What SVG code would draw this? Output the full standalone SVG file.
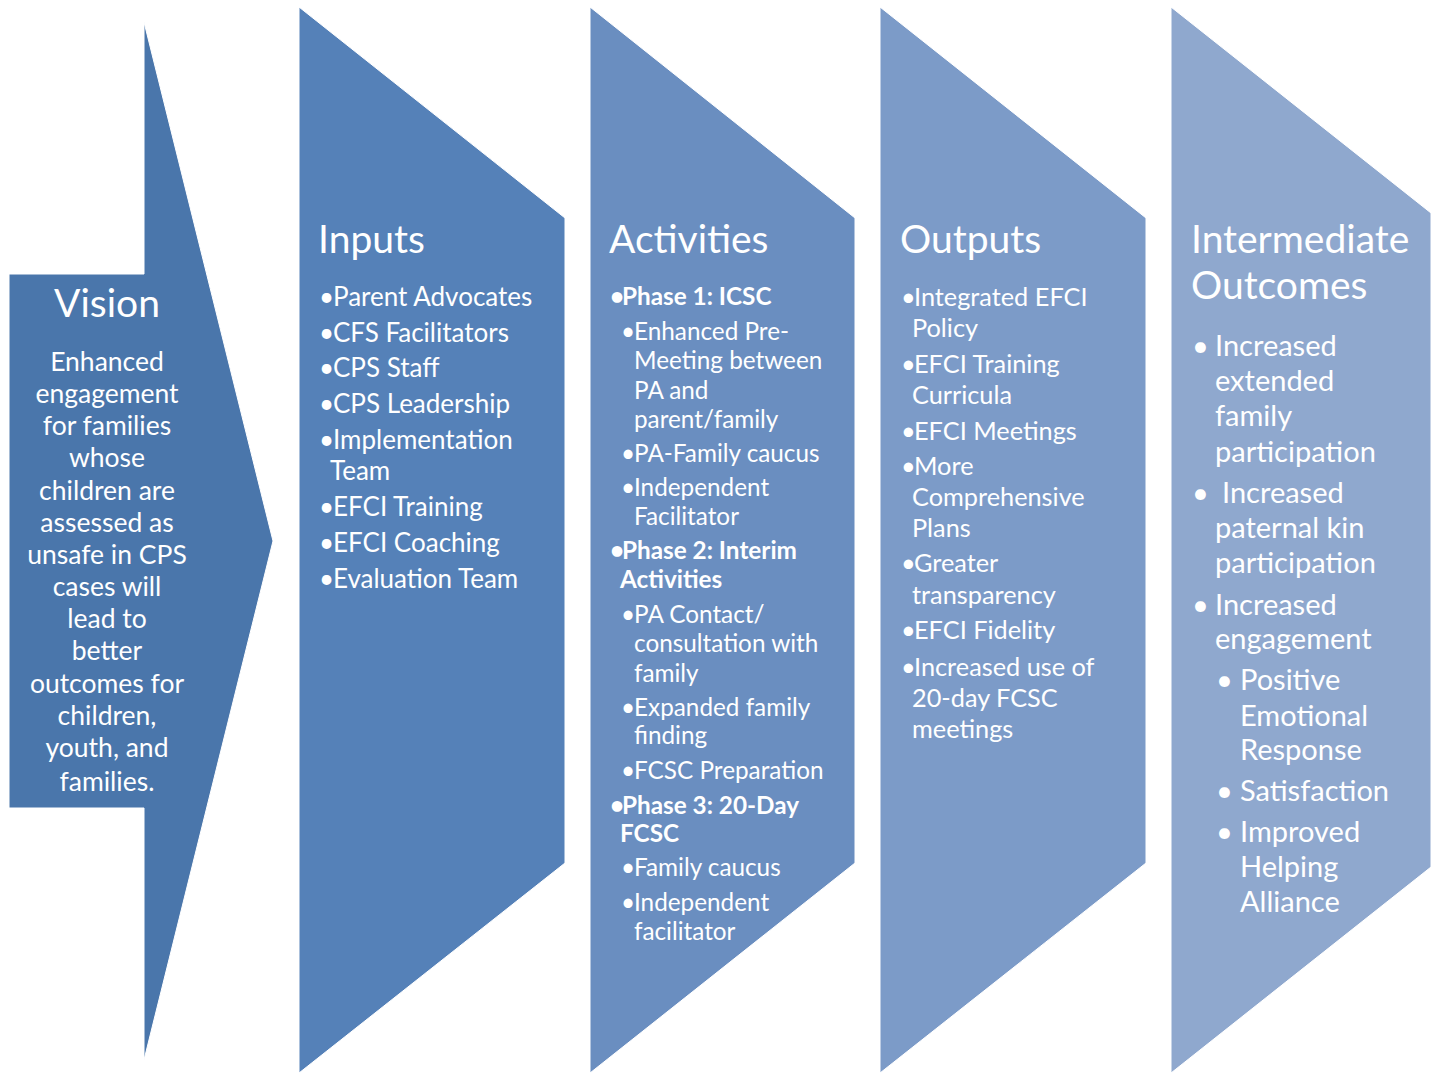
<svg xmlns="http://www.w3.org/2000/svg" width="1431" height="1073" viewBox="0 0 1431 1073">
<style>
text{font-family:Lato,"Open Sans","Liberation Sans",sans-serif;fill:#ffffff}
.title{font-size:39px}
.vb{font-size:26.5px;text-anchor:middle}
.in{font-size:26px}
.ac{font-size:24.3px}
.bd{font-weight:bold}
.ou{font-size:25.3px}
.io{font-size:29px}
.shape{stroke:#ffffff;stroke-width:1}
</style>
<rect width="1431" height="1073" fill="#ffffff"/>
<g id="connectors"></g>
<g id="vision">
<polygon class="shape" fill="#4a76ab" points="9,274 144,274 144,22 273,541 144,1060 144,808 9,808"/>
<text class="title" x="107" y="317" text-anchor="middle">Vision</text>
<text class="vb" x="107" y="371">Enhanced</text>
<text class="vb" x="107" y="403">engagement</text>
<text class="vb" x="107" y="435">for families</text>
<text class="vb" x="107" y="467">whose</text>
<text class="vb" x="107" y="500">children are</text>
<text class="vb" x="107" y="532">assessed as</text>
<text class="vb" x="107" y="564">unsafe in CPS</text>
<text class="vb" x="107" y="596">cases will</text>
<text class="vb" x="107" y="628">lead to</text>
<text class="vb" x="107" y="660">better</text>
<text class="vb" x="107" y="693">outcomes for</text>
<text class="vb" x="107" y="725">children,</text>
<text class="vb" x="107" y="757">youth, and</text>
<text class="vb" x="107" y="791">families.</text>
</g>
<g id="inputs">
<polygon class="shape" fill="#5581b8" points="299,7 565,218 565,863 299,1073"/>
<text class="title" x="318" y="253">Inputs</text>
<g class="in">
<text x="319" y="306">•</text><text x="333" y="306">Parent Advocates</text>
<text x="319" y="342">•</text><text x="333" y="342">CFS Facilitators</text>
<text x="319" y="377">•</text><text x="333" y="377">CPS Staff</text>
<text x="319" y="413">•</text><text x="333" y="413">CPS Leadership</text>
<text x="319" y="449">•</text><text x="333" y="449">Implementation</text>
<text x="330" y="480">Team</text>
<text x="319" y="516">•</text><text x="333" y="516">EFCI Training</text>
<text x="319" y="552">•</text><text x="333" y="552">EFCI Coaching</text>
<text x="319" y="588">•</text><text x="333" y="588">Evaluation Team</text>
</g>
</g>
<g id="activities">
<polygon class="shape" fill="#6a8ec0" points="590,7 855,218 855,863 590,1073"/>
<text class="title" x="609" y="253">Activities</text>
<g class="ac">
<text class="bd" x="610" y="305">•</text><text class="bd" x="622" y="305">Phase 1: ICSC</text>
<text x="621" y="340">•</text><text x="634" y="340">Enhanced Pre-</text>
<text x="634" y="369">Meeting between</text>
<text x="634" y="399">PA and</text>
<text x="634" y="428">parent/family</text>
<text x="621" y="462">•</text><text x="634" y="462">PA-Family caucus</text>
<text x="621" y="496">•</text><text x="634" y="496">Independent</text>
<text x="634" y="525">Facilitator</text>
<text class="bd" x="610" y="559">•</text><text class="bd" x="622" y="559">Phase 2: Interim</text>
<text class="bd" x="620" y="588">Activities</text>
<text x="621" y="623">•</text><text x="634" y="623">PA Contact/</text>
<text x="634" y="652">consultation with</text>
<text x="634" y="682">family</text>
<text x="621" y="716">•</text><text x="634" y="716">Expanded family</text>
<text x="634" y="744">finding</text>
<text x="621" y="779">•</text><text x="634" y="779">FCSC Preparation</text>
<text class="bd" x="610" y="814">•</text><text class="bd" x="622" y="814">Phase 3: 20-Day</text>
<text class="bd" x="620" y="842">FCSC</text>
<text x="621" y="876">•</text><text x="634" y="876">Family caucus</text>
<text x="621" y="911">•</text><text x="634" y="911">Independent</text>
<text x="634" y="940">facilitator</text>
</g>
</g>
<g id="outputs">
<polygon class="shape" fill="#7c9bc8" points="880,7 1146,218 1146,863 880,1073"/>
<text class="title" x="900" y="253">Outputs</text>
<g class="ou">
<text x="901" y="306">•</text><text x="914" y="306">Integrated EFCI</text>
<text x="912" y="337">Policy</text>
<text x="901" y="373">•</text><text x="914" y="373">EFCI Training</text>
<text x="912" y="404">Curricula</text>
<text x="901" y="440">•</text><text x="914" y="440">EFCI Meetings</text>
<text x="901" y="475">•</text><text x="914" y="475">More</text>
<text x="912" y="506">Comprehensive</text>
<text x="912" y="537">Plans</text>
<text x="901" y="572">•</text><text x="914" y="572">Greater</text>
<text x="912" y="604">transparency</text>
<text x="901" y="639">•</text><text x="914" y="639">EFCI Fidelity</text>
<text x="901" y="676">•</text><text x="914" y="676">Increased use of</text>
<text x="912" y="707">20-day FCSC</text>
<text x="912" y="738">meetings</text>
</g>
</g>
<g id="intermediate-outcomes">
<polygon class="shape" fill="#8fa8ce" points="1171,7 1431,213 1431,867 1171,1073"/>
<text class="title" x="1191" y="253">Intermediate</text>
<text class="title" x="1191" y="299">Outcomes</text>
<g class="io">
<text x="1192" y="356">•</text><text x="1215" y="356">Increased</text>
<text x="1215" y="391">extended</text>
<text x="1215" y="426">family</text>
<text x="1215" y="462">participation</text>
<text x="1192" y="503">•</text><text x="1222" y="503">Increased</text>
<text x="1215" y="538">paternal kin</text>
<text x="1215" y="573">participation</text>
<text x="1192" y="615">•</text><text x="1215" y="615">Increased</text>
<text x="1215" y="649">engagement</text>
<text x="1216" y="690">•</text><text x="1240" y="690">Positive</text>
<text x="1240" y="726">Emotional</text>
<text x="1240" y="760">Response</text>
<text x="1216" y="801">•</text><text x="1240" y="801">Satisfaction</text>
<text x="1216" y="842">•</text><text x="1240" y="842">Improved</text>
<text x="1240" y="877">Helping</text>
<text x="1240" y="912">Alliance</text>
</g>
</g>
</svg>
